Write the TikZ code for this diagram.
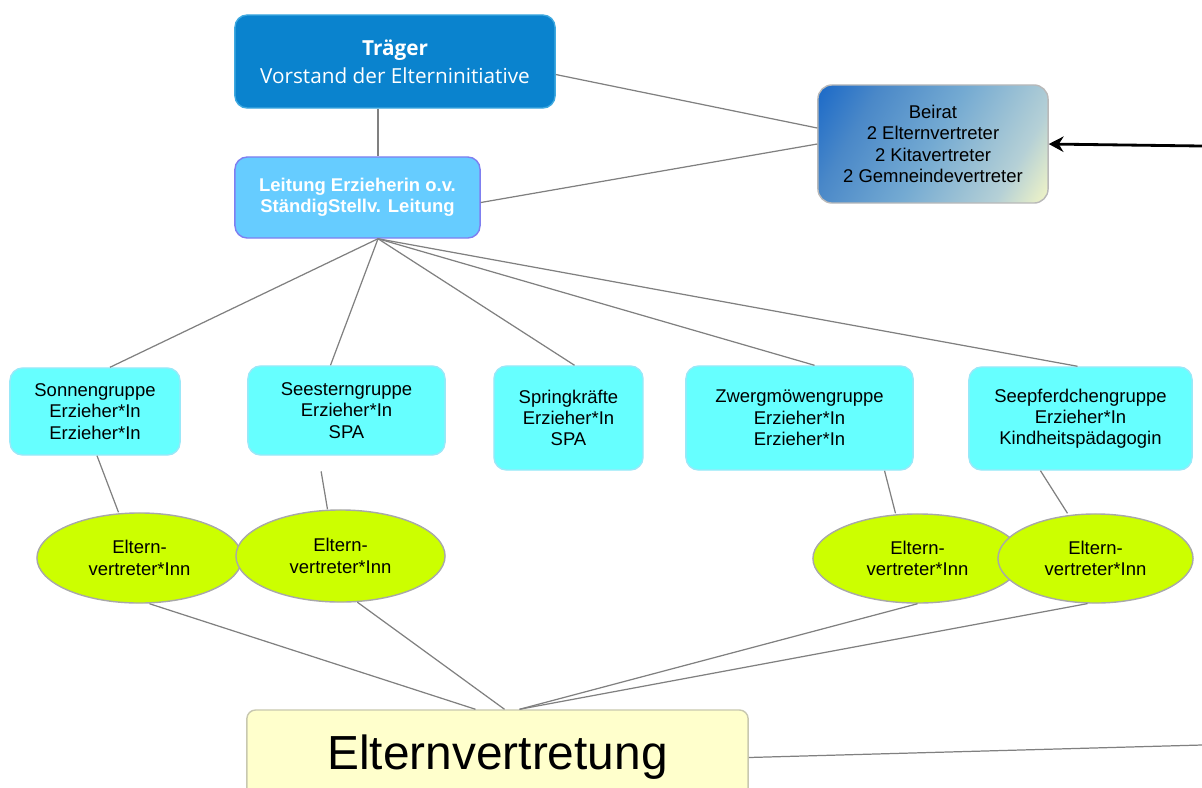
\documentclass[tikz,border=0pt]{standalone}
\usepackage{fontspec}
\setmainfont{Liberation Sans}
\newfontfamily\segoe{Open Sans}
\usetikzlibrary{arrows.meta,shapes.geometric,calc}
\definecolor{traegerblue}{HTML}{0A83CE}
\definecolor{traegerrim}{HTML}{3FA9E0}
\definecolor{leitblue}{HTML}{66CCFF}
\definecolor{leitrim}{HTML}{7F7FF0}
\definecolor{groupcyan}{HTML}{66FFFF}
\definecolor{grouprim}{HTML}{99E8F8}
\definecolor{limenode}{HTML}{CCFF00}
\definecolor{limerim}{HTML}{A8A8A8}
\definecolor{paleyellow}{HTML}{FFFFCC}
\definecolor{palerim}{HTML}{C8C8B0}
\definecolor{beiratblue}{HTML}{1C6AC8}
\definecolor{beiratdeep}{HTML}{4A88C8}
\definecolor{beiratmid}{HTML}{74AAD2}
\definecolor{beiratlight}{HTML}{B5D0D6}
\definecolor{beiratpale}{HTML}{F2F5C6}
\definecolor{linegray}{HTML}{808080}
% gradient of the Beirat box
\pgfdeclareverticalshading{beiratshade}{100bp}{color(0bp)=(beiratpale); color(16bp)=(beiratpale);
  color(28bp)=(beiratlight); color(50bp)=(beiratmid); color(70bp)=(beiratdeep);
  color(84bp)=(beiratblue); color(100bp)=(beiratblue)}
\tikzset{
      conn/.style = {draw=linegray, line width=.35pt},
       arr/.style = {-{Stealth[length=4.2pt, width=4.4pt]}, line width=.8pt}, % <--- arrow to Beirat
      base/.style = {draw, line width=.4pt, align=center, inner sep=1pt,
                     font=\fontsize{5.25pt}{6.05pt}\selectfont},
traegerbox/.style = {base, draw=traegerrim, fill=traegerblue, text=white,
                     rounded corners=3.5pt, minimum width=3.2cm, minimum height=.93cm,
                     font=\segoe\fontsize{5.9pt}{8pt}\selectfont},
  leitbox/.style = {base, draw=leitrim, fill=leitblue, text=white,
                     rounded corners=3.5pt, minimum width=2.45cm, minimum height=.81cm,
                     font=\bfseries\fontsize{5.25pt}{6.05pt}\selectfont},
 beiratbox/.style = {base, draw=limerim!80, rounded corners=4pt,
                     shade, shading=beiratshade, shading angle=60,
                     minimum width=2.3cm, minimum height=1.18cm},
  groupbox/.style = {base, draw=grouprim, fill=groupcyan, rounded corners=3.6pt},
 vertreter/.style = {base, ellipse, draw=limerim, fill=limenode, inner sep=0pt},
 elternbox/.style = {base, draw=palerim, fill=paleyellow, rounded corners=2.5pt,
                     minimum width=5.01cm, minimum height=.95cm,
                     font=\fontsize{13.6pt}{16pt}\selectfont},
        }

\begin{document}
\begin{tikzpicture}[x=0.01cm,y=-0.01cm]
\useasboundingbox (0,0) rectangle (1202,787);
\clip (0,0) rectangle (1202,787);
% top
\node[traegerbox] (traeger) at (395,61.5) {{\bfseries Träger}\\Vorstand der Elterninitiative};
\node[leitbox] (leitung) at (357.5,197.5) {Leitung Erzieherin o.v.\\StändigStellv. Leitung};
\node[beiratbox] (beirat) at (933,144) {Beirat\\2 Elternvertreter\\2 Kitavertreter\\2 Gemneindevertreter};
\coordinate (hub) at ([xshift=0.205cm]leitung.south);
\coordinate (beiratsrc) at (1202,146);
% groups
\node[groupbox, minimum width=1.7cm, minimum height=.87cm] (g1) at (95,411.5) {Sonnengruppe\\Erzieher*In\\Erzieher*In};
\node[groupbox, minimum width=1.97cm, minimum height=.89cm] (g2) at (346.5,410.5) {Seesterngruppe\\Erzieher*In\\SPA};
\node[groupbox, minimum width=1.49cm, minimum height=1.04cm] (g3) at (568.5,418) {Springkräfte\\Erzieher*In\\SPA};
\node[groupbox, minimum width=2.27cm, minimum height=1.04cm] (g4) at (799.5,418) {Zwergmöwengruppe\\Erzieher*In\\Erzieher*In};
\node[groupbox, minimum width=2.23cm, minimum height=1.03cm] (g5) at (1080.5,418.5) {Seepferdchengruppe\\Erzieher*In\\Kindheitspädagogin};
% Elternvertreter
\node[vertreter, minimum width=2.05cm, minimum height=.9cm] (e1) at (139.5,558) {Eltern-\\vertreter*Inn};
\node[vertreter, minimum width=2.09cm, minimum height=.92cm] (e2) at (340.5,556) {Eltern-\\vertreter*Inn};
\node[vertreter, minimum width=2.09cm, minimum height=.89cm] (e3) at (917.5,558.5) {Eltern-\\vertreter*Inn};
\node[vertreter, minimum width=1.95cm, minimum height=.89cm] (e4) at (1095.5,558.5) {Eltern-\\vertreter*Inn};
\node[elternbox] (eltern) at (497.5,757.5) {Elternvertretung};
\coordinate (elternfar) at (1202,745);

\draw[conn] (traeger.south -| hub) -- (leitung.north -| hub);
\draw[conn] ([yshift=-0.13cm]traeger.east) -- ([yshift=0.16cm]beirat.west);
\draw[conn] ([yshift=-0.05cm]leitung.east) -- (beirat.west);
\draw[arr] (beiratsrc) -- (beirat.east);
\foreach \g/\dx in {g1/15,g2/-16,g3/6,g4/15,g5/-3}
  \draw[conn] (hub) -- ([xshift=\dx*0.01cm]\g.north);
%\draw[conn] (g1.south) -- (e1.north);
\draw[conn] ([xshift=0.02cm]g1.south) -- ([xshift=-0.21cm]e1.north);
\draw[conn, shorten <=4.5pt] ([xshift=-0.28cm]g2.south) -- ([xshift=-0.13cm]e2.north);
\draw[conn] ([xshift=0.85cm]g4.south) -- ([xshift=-0.22cm]e3.north);
\draw[conn] ([xshift=-0.4cm]g5.south) -- ([xshift=-0.28cm]e4.north);
\draw[conn] ([xshift=0.1cm]e1.south) -- ([xshift=-0.22cm]eltern.north);
\draw[conn] (e2.-70) -- ([xshift=0.07cm]eltern.north);
\draw[conn] (e3.south) -- ([xshift=0.22cm]eltern.north);
\draw[conn] (e4.-100) -- ([xshift=0.22cm]eltern.north);
\draw[conn] (eltern.east) -- (elternfar);
\end{tikzpicture}
\end{document}
